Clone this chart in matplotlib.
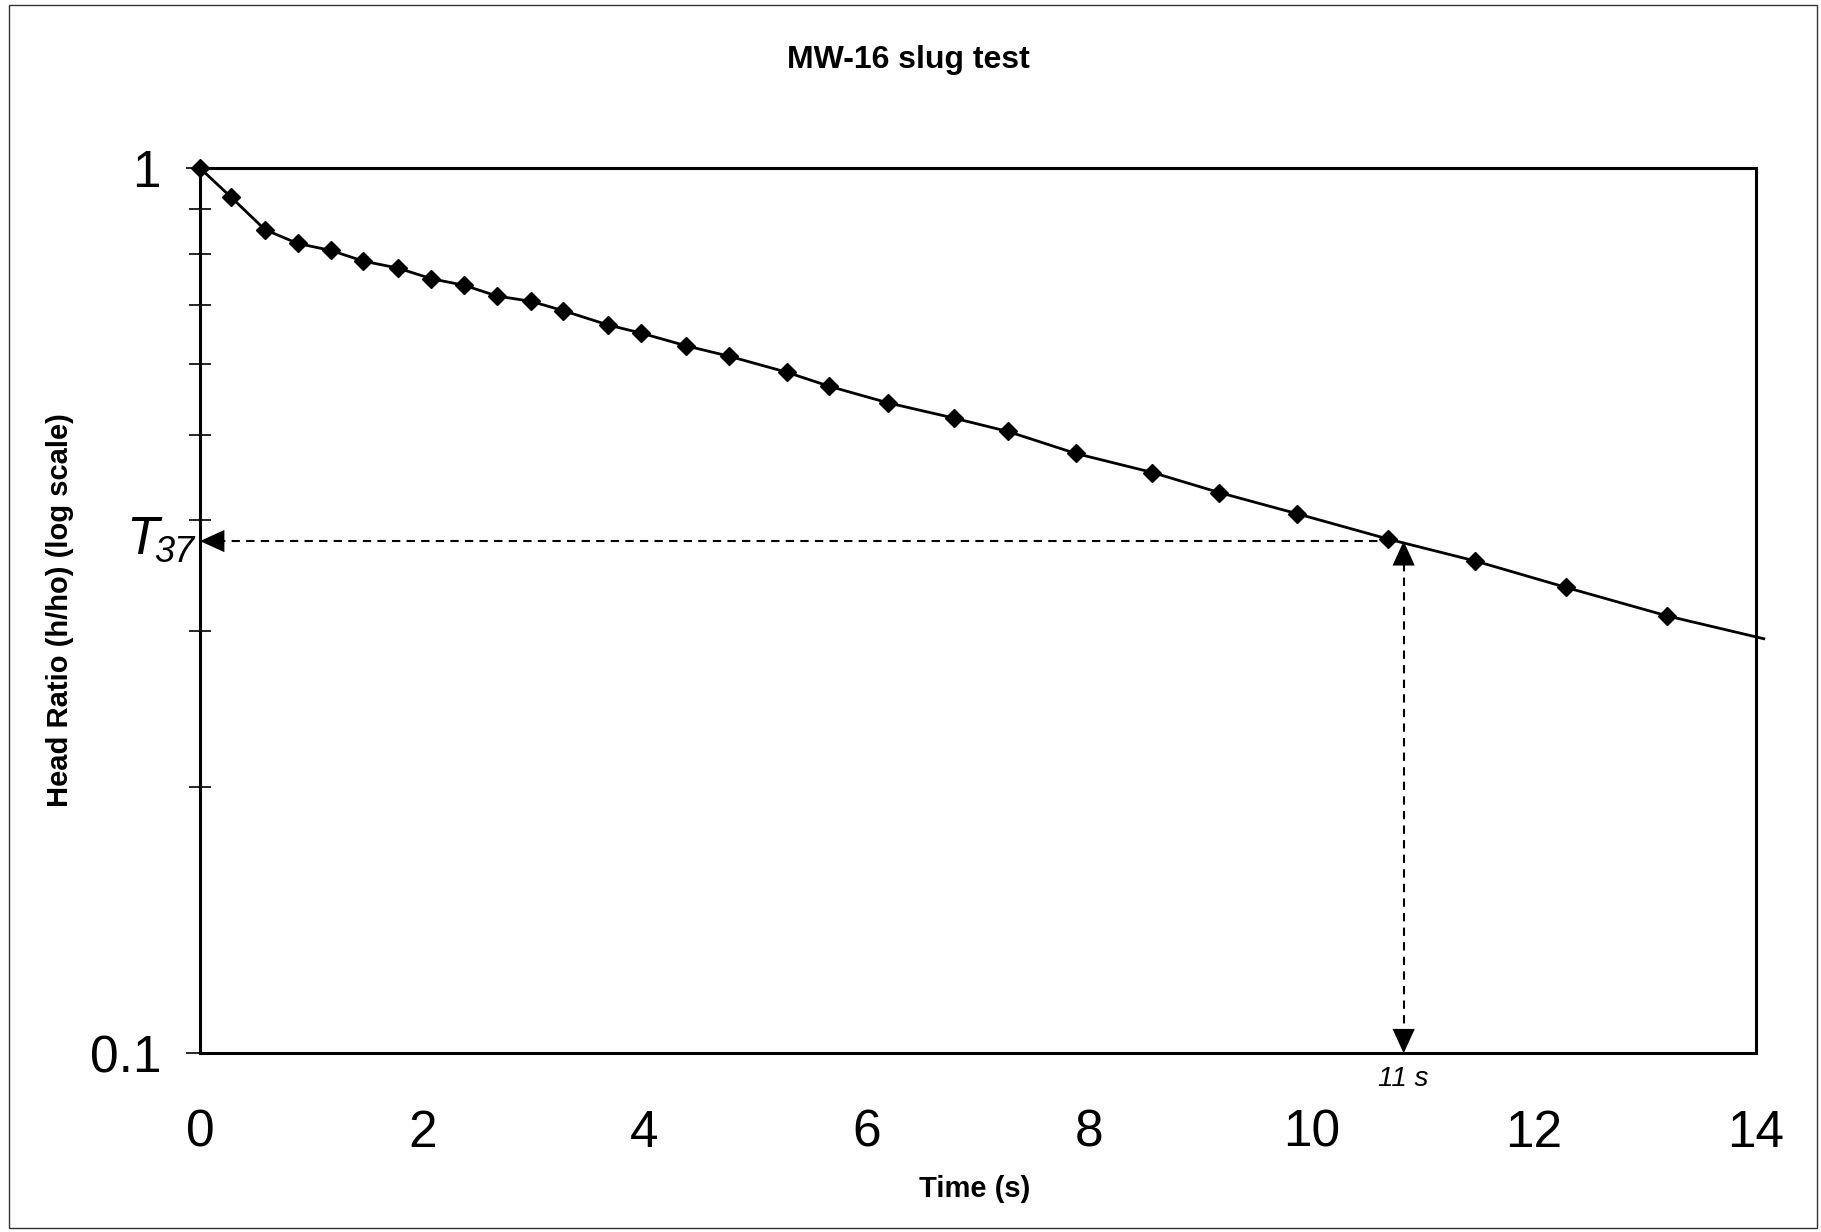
import matplotlib.pyplot as plt
import numpy as np
from matplotlib.patches import Rectangle
from matplotlib.ticker import FixedLocator, NullFormatter

plt.rcParams['font.family'] = ['Liberation Sans', 'DejaVu Sans']

# --- data ---
time_s = [0.0, 0.28, 0.585, 0.878, 1.18, 1.47, 1.78, 2.08, 2.38, 2.67, 2.98, 3.27,
          3.67, 3.97, 4.37, 4.76, 5.28, 5.66, 6.19, 6.78, 7.27, 7.88, 8.57, 9.17,
          9.87, 10.69, 11.47, 12.29, 13.2, 14.07]
head_ratio = [1.0, 0.927, 0.852, 0.822, 0.807, 0.785, 0.771, 0.750, 0.737, 0.717,
              0.707, 0.690, 0.665, 0.651, 0.630, 0.613, 0.588, 0.567, 0.543, 0.522,
              0.504, 0.476, 0.453, 0.430, 0.407, 0.381, 0.360, 0.336, 0.312, 0.294]
n_markers = 29          # last point is only the line running past the frame
t37_ratio = 0.379
t37_time = 10.83
x_ticks = [0, 2, 4, 6, 8, 10, 12, 14]

fig = plt.figure(figsize=(18.21, 12.32), dpi=100)
ax = fig.add_axes([0.1098, 0.1450, 0.8545, 0.7186])

ax.plot(time_s, head_ratio, color='black', lw=2, clip_on=False, zorder=3)
ax.plot(time_s[:n_markers], head_ratio[:n_markers], ls='none', marker='D',
        ms=9, color='black', clip_on=False, zorder=4)

ax.set_yscale('log')
ax.set_xlim(0, 14)
ax.set_ylim(0.1, 1)

# dashed guide lines
ax.plot([0.15, time_s[25] - 0.05], [t37_ratio, t37_ratio], color='black',
        lw=1.5, ls=(0, (4, 3)), zorder=2)
ax.plot([t37_time, t37_time], [0.104, t37_ratio * 0.965], color='black',
        lw=1.5, ls=(0, (4, 3)), zorder=2)

# arrow heads
head = '-|>,head_length=0.55,head_width=0.25'
arrow_kw = dict(arrowstyle=head, lw=0, color='black', mutation_scale=32,
                shrinkA=0, shrinkB=0)
ax.annotate('', xy=(0, t37_ratio), xytext=(0.5, t37_ratio), arrowprops=arrow_kw)
ax.annotate('', xy=(t37_time, 0.1), xytext=(t37_time, 0.12), arrowprops=arrow_kw)
ax.annotate('', xy=(t37_time, t37_ratio), xytext=(t37_time, 0.3),
            arrowprops=arrow_kw)

# T37 label: large italic T with italic subscript
ax.annotate('37', xy=(0, t37_ratio), xytext=(-4, -8), textcoords='offset points',
            ha='right', va='center', fontsize=26, fontstyle='italic')
ax.annotate('T', xy=(0, t37_ratio), xytext=(-30, 1), textcoords='offset points',
            ha='right', va='center', fontsize=38, fontstyle='italic')
ax.text(t37_time, 0.0935, '11 s', ha='center', va='center', fontsize=20,
        fontstyle='italic')

ax.xaxis.set_major_locator(FixedLocator(x_ticks))
ax.set_xticklabels([str(t) for t in x_ticks])
ax.tick_params(axis='x', length=0, pad=40, labelsize=37)
ax.yaxis.set_major_locator(FixedLocator([0.1, 1]))
ax.set_yticklabels(['0.1', '1'])
ax.yaxis.set_minor_locator(FixedLocator([0.2, 0.3, 0.4, 0.5, 0.6, 0.7, 0.8, 0.9]))
ax.yaxis.set_minor_formatter(NullFormatter())
ax.tick_params(axis='y', which='major', direction='out', length=10, width=1.2,
               pad=18, labelsize=37)
ax.tick_params(axis='y', which='minor', direction='inout', length=16, width=1.2)

for s in ax.spines.values():
    s.set_linewidth(2.2)

fig.text(0.4988, 0.951, 'MW-16 slug test', ha='center', va='center',
         fontsize=23, fontweight='bold')
fig.text(0.535, 0.035, 'Time (s)', ha='center', va='center',
         fontsize=21, fontweight='bold')
fig.text(0.033, 0.505, 'Head Ratio (h/ho) (log scale)', ha='center', va='center',
         rotation=90, fontsize=21, fontweight='bold')

# outer chart-area frame
fig.patches.append(Rectangle((0.005, 0.003), 0.993, 0.993, transform=fig.transFigure,
                             fill=False, lw=1, edgecolor='#333333'))

fig.savefig('out.png', dpi=100)
